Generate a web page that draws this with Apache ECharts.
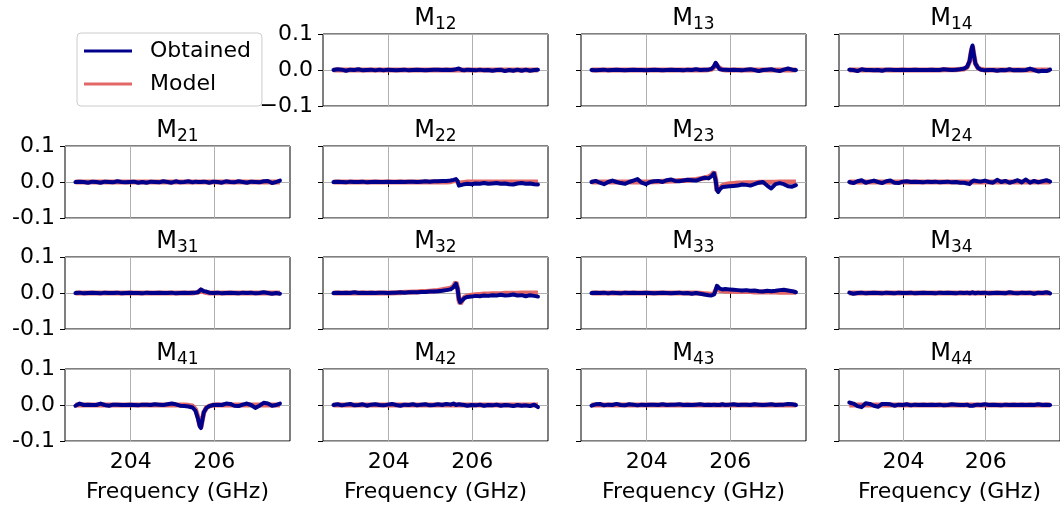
<!DOCTYPE html>
<html><head><meta charset="utf-8">
<script src="https://cdn.jsdelivr.net/npm/echarts@6.0.0/dist/echarts.min.js"></script>
<style>html,body{margin:0;padding:0;background:#fff}#c{width:1060px;height:508px}</style>
</head><body><div id="c"></div>
<script>
// ---------------- data ----------------
const freqGHz = [
  202.68, 202.78, 202.88, 202.98, 203.08, 203.18, 203.28, 203.38, 203.48, 203.58,
  203.68, 203.78, 203.88, 203.98, 204.08, 204.18, 204.28, 204.38, 204.48, 204.58,
  204.68, 204.78, 204.88, 204.98, 205.08, 205.18, 205.28, 205.38, 205.48,
  205.55, 205.61, 205.65, 205.68, 205.71, 205.75, 205.81, 205.88,
  205.98, 206.08, 206.18, 206.28, 206.38, 206.48, 206.58, 206.68, 206.78, 206.88,
  206.98, 207.08, 207.18, 207.28, 207.38, 207.48, 207.57
];
const xTickValues = [204, 206];
const yTickValues = [-0.1, 0.0, 0.1];
const seriesNames = ['Obtained', 'Model'];

const modelFlat = [
  0,0,0,0,0,0,0,0,0,0,
  0,0,0,0,0,0,0,0,0,0,
  0,0,0,0,0,0,0,0,0,
  0,0,0,0,0,0,0,0,
  0,0,0,0,0,0,0,0,0,0,
  0,0,0,0,0,0,0
];

const obtM12 = [
  0.000, 0.002, 0.001, -0.002, 0.001, 0.000, 0.002, -0.001, 0.000, 0.001,
  -0.001, 0.001, -0.001, 0.001, 0.000, -0.001, 0.000, 0.001, -0.001, 0.000,
  0.001, 0.000, -0.001, 0.000, 0.001, 0.001, 0.000, 0.001, 0.000,
  0.001, 0.002, 0.003, 0.004, 0.002, 0.000, -0.001, 0.001,
  0.000, -0.001, 0.001, -0.001, 0.000, -0.002, 0.000, 0.001, -0.003, 0.000,
  -0.002, 0.001, -0.002, 0.001, -0.002, 0.000, 0.001
];
const obtM13 = [
  0.000, -0.001, 0.000, 0.001, -0.001, 0.000, 0.001, 0.000, -0.001, 0.000,
  0.001, 0.000, 0.000, -0.001, 0.000, 0.001, 0.000, -0.001, 0.000, 0.001,
  0.000, 0.000, -0.001, 0.001, 0.000, 0.002, 0.000, 0.001, 0.001,
  0.003, 0.010, 0.020, 0.016, 0.008, 0.002, 0.001, 0.001,
  0.000, 0.001, 0.000, -0.001, 0.001, 0.002, 0.000, -0.003, 0.000, 0.001,
  0.002, -0.001, -0.003, 0.001, 0.004, 0.001, 0.000
];
const modM13 = [
  0,0,0,0,0,0,0,0,0,0,
  0,0,0,0,0,0,0,0,0,0,
  0,0,0,0,0,0,0,0,0.001,
  0.002, 0.008, 0.018, 0.016, 0.008, 0.003, 0.001, 0.000,
  0,0,0,0,0,0,0,0,0,0,
  0,0,0,0,0,0,0
];
const obtM14 = [
  0.001, 0.000, -0.003, 0.002, 0.000, 0.000, -0.001, 0.000, -0.002, 0.001,
  0.001, 0.000, 0.000, 0.001, 0.000, 0.000, 0.001, 0.000, 0.000, 0.000,
  0.001, 0.000, 0.000, 0.002, 0.001, 0.000, 0.001, 0.002, 0.004,
  0.009, 0.026, 0.054, 0.068, 0.044, 0.018, 0.006, 0.001,
  -0.001, 0.000, 0.000, -0.002, 0.000, -0.001, 0.002, -0.001, 0.000, -0.001,
  0.000, 0.004, 0.000, -0.004, -0.002, -0.003, 0.001
];
const modM14 = [
  0,0,0,0,0,0,0,0,0,0,
  0,0,0,0,0,0,0,0,0,0,
  0,0,0,0.001,0.001,0.001,0.001,0.002,0.003,
  0.008, 0.024, 0.052, 0.066, 0.044, 0.018, 0.006, 0.002,
  0,0,0,0,0,0,0,0,0,0,
  0,0,0,0,0,0,0
];
const obtM21 = [
  0.000, 0.001, 0.000, -0.002, 0.001, 0.000, -0.002, 0.001, 0.000, -0.001,
  0.002, 0.000, -0.001, 0.000, 0.001, -0.002, 0.000, -0.002, 0.001, 0.000,
  -0.001, 0.002, 0.000, -0.002, 0.002, -0.001, 0.000, 0.002, -0.001,
  0.001, 0.000, 0.002, 0.000, -0.002, 0.001, 0.000, -0.002,
  0.001, 0.000, -0.002, 0.002, 0.000, -0.001, 0.002, 0.000, -0.002, 0.001,
  0.000, -0.001, 0.002, 0.003, -0.003, 0.000, 0.004
];
const obtM22 = [
  0.000, 0.001, 0.000, -0.001, 0.001, 0.000, 0.000, 0.001, -0.001, 0.000,
  0.001, 0.000, 0.000, 0.001, 0.000, 0.000, 0.001, 0.000, 0.001, 0.001,
  0.000, 0.001, 0.002, 0.001, 0.002, 0.002, 0.003, 0.003, 0.004,
  0.006, 0.008, 0.002, -0.010, -0.011, -0.008, -0.006, -0.005,
  -0.006, -0.004, -0.005, -0.003, -0.005, -0.004, -0.003, -0.005, -0.004, -0.006,
  -0.007, -0.004, -0.003, -0.005, -0.004, -0.006, -0.007
];
const modM22 = [
  0,0,0,0,0,0,0,0,0,0,
  0,0,0,0,0,0,0,0,0,0,
  0,0,0,0,0,0,0,0,0.001,
  0.003, 0.005, 0.002, -0.004, -0.004, -0.002, -0.001, 0,
  0,0,0,0,0,0,0,0,0,0,
  0,0,0,0,0,0,0
];
const obtM23 = [
  0.000, 0.003, -0.002, -0.006, 0.000, 0.004, 0.000, -0.003, -0.005, 0.000,
  0.004, 0.008, -0.002, -0.006, 0.000, 0.002, 0.003, 0.000, 0.005, 0.007,
  0.003, 0.002, 0.004, 0.006, 0.005, 0.004, 0.008, 0.012, 0.010,
  0.016, 0.024, 0.004, -0.022, -0.028, -0.020, -0.014, -0.013,
  -0.012, -0.011, -0.010, -0.007, -0.008, -0.010, -0.006, -0.002, 0.000, -0.010,
  -0.018, -0.006, -0.003, -0.006, -0.012, -0.013, -0.009
];
const modM23 = [
  0,0,0,0,0,0,0,0,0,0,
  0,0,0,0,0, 0.001, 0.001, 0.002, 0.002, 0.003,
  0.003, 0.004, 0.004, 0.005, 0.006, 0.007, 0.009, 0.011, 0.014,
  0.019, 0.028, 0.008, -0.024, -0.026, -0.018, -0.010, -0.007,
  -0.005, -0.004, -0.003, -0.003, -0.002, -0.002, -0.002, -0.001, -0.001, -0.001,
  -0.001, -0.001, 0, 0, 0, 0, 0
];
const obtM24 = [
  0.000, -0.003, 0.002, 0.005, -0.002, 0.001, 0.004, 0.000, -0.003, 0.002,
  0.004, -0.002, -0.003, 0.001, 0.002, 0.000, 0.001, 0.000, -0.001, 0.001,
  0.000, 0.001, -0.001, 0.000, 0.001, -0.001, 0.000, -0.002, -0.002,
  -0.004, -0.006, 0.000, 0.005, 0.004, 0.003, 0.002, 0.001,
  0.004, 0.000, -0.002, 0.006, 0.000, 0.003, -0.002, 0.001, 0.005, -0.001,
  0.007, -0.002, 0.003, -0.001, 0.002, 0.005, 0.001
];
const obtM31 = [
  0.000, 0.001, -0.001, 0.000, 0.001, 0.000, -0.001, 0.001, 0.000, 0.000,
  0.001, -0.001, 0.000, 0.001, 0.000, 0.000, -0.001, 0.001, 0.000, 0.000,
  0.001, 0.000, 0.000, 0.001, -0.001, 0.000, 0.001, 0.000, 0.001,
  0.001, 0.002, 0.006, 0.010, 0.008, 0.005, 0.004, 0.001,
  0.000, 0.001, -0.001, 0.000, 0.001, 0.000, -0.001, 0.001, 0.000, 0.001,
  -0.001, 0.000, 0.002, 0.000, -0.002, 0.000, -0.002
];
const modM31 = [
  0,0,0,0,0,0,0,0,0,0,
  0,0,0,0,0,0,0,0,0,0,
  0,0,0,0,0,0,0,0,0,
  0.001, 0.002, 0.005, 0.008, 0.006, 0.003, 0.001, 0,
  0,0,0,0,0,0,0,0,0,0,
  0,0,0,0,0,0,0
];
const obtM32 = [
  0.000, 0.001, 0.000, 0.001, 0.000, 0.002, 0.000, 0.001, 0.000, 0.001,
  0.000, 0.001, 0.001, 0.000, 0.001, 0.001, 0.002, 0.001, 0.002, 0.002,
  0.002, 0.003, 0.003, 0.004, 0.004, 0.005, 0.006, 0.008, 0.010,
  0.016, 0.026, 0.010, -0.016, -0.026, -0.022, -0.014, -0.011,
  -0.010, -0.008, -0.009, -0.007, -0.008, -0.006, -0.007, -0.005, -0.007, -0.006,
  -0.004, -0.007, -0.006, -0.009, -0.006, -0.008, -0.010
];
const modM32 = [
  0,0,0,0,0,0,0,0,0,0,
  0,0,0,0,0, 0.001, 0.001, 0.002, 0.002, 0.003,
  0.003, 0.004, 0.004, 0.005, 0.006, 0.007, 0.009, 0.011, 0.013,
  0.019, 0.030, 0.012, -0.020, -0.030, -0.022, -0.012, -0.008,
  -0.006, -0.005, -0.004, -0.003, -0.003, -0.002, -0.002, -0.002, -0.001, -0.001,
  -0.001, -0.001, 0, 0, 0, 0, 0
];
const obtM33 = [
  0.000, 0.001, 0.000, 0.001, -0.001, 0.001, 0.000, -0.001, 0.001, 0.000,
  0.001, 0.000, 0.000, 0.001, 0.000, -0.001, 0.000, 0.001, 0.000, -0.001,
  0.000, 0.001, -0.001, 0.000, -0.002, 0.000, -0.002, -0.004, -0.006,
  -0.007, -0.004, 0.008, 0.020, 0.017, 0.012, 0.010, 0.011,
  0.010, 0.009, 0.008, 0.007, 0.008, 0.006, 0.007, 0.005, 0.004, 0.006,
  0.005, 0.006, 0.008, 0.009, 0.007, 0.005, 0.002
];
const modM33 = [
  0,0,0,0,0,0,0,0,0,0,
  0,0,0,0,0,0,0,0,0,0,
  0,0,0,0,0,0, -0.001, -0.002, -0.003,
  -0.004, -0.002, 0.008, 0.015, 0.010, 0.007, 0.006, 0.005,
  0.005, 0.005, 0.004, 0.004, 0.004, 0.004, 0.003, 0.003, 0.003, 0.003,
  0.003, 0.003, 0.002, 0.002, 0.002, 0.002, 0.002
];
const obtM34 = [
  0.001, -0.002, 0.000, 0.001, -0.001, 0.000, 0.001, 0.000, -0.001, 0.001,
  0.000, -0.001, 0.001, 0.000, 0.000, 0.001, -0.001, 0.000, 0.001, 0.000,
  0.000, -0.001, 0.001, 0.000, 0.001, 0.000, -0.001, 0.001, 0.000,
  0.001, -0.001, 0.000, 0.002, 0.000, -0.001, 0.001, 0.000,
  0.001, -0.001, 0.000, 0.001, 0.000, -0.001, 0.002, 0.000, -0.001, 0.001,
  0.000, 0.001, -0.002, 0.001, 0.000, 0.002, -0.001
];
const obtM41 = [
  -0.002, 0.004, 0.000, 0.001, 0.000, 0.000, 0.004, 0.000, -0.002, 0.001,
  0.001, 0.000, 0.000, 0.001, 0.000, -0.001, 0.001, 0.001, 0.000, 0.002,
  0.001, 0.000, 0.002, 0.004, 0.002, -0.002, -0.003, -0.004, -0.007,
  -0.016, -0.038, -0.058, -0.064, -0.044, -0.020, -0.008, -0.003,
  0.000, 0.001, 0.000, 0.004, 0.003, -0.002, -0.003, 0.001, 0.004, 0.000,
  -0.008, -0.002, 0.006, 0.004, -0.002, 0.000, 0.004
];
const modM41 = [
  0,0,0,0,0,0,0,0,0,0,
  0,0,0,0,0,0,0,0,0,0,
  0,0,0,0,0,0,0,-0.001,-0.003,
  -0.012, -0.034, -0.055, -0.062, -0.044, -0.020, -0.008, -0.003,
  0,0,0,0,0,0,0,0,0,0,
  0,0,0,0,0,0,0
];
const obtM42 = [
  0.000, 0.002, -0.001, 0.001, 0.003, -0.001, 0.000, 0.002, -0.002, 0.001,
  0.002, 0.000, -0.001, 0.001, 0.003, 0.000, -0.002, 0.001, 0.000, 0.002,
  -0.001, 0.001, 0.002, -0.001, 0.000, 0.002, 0.000, 0.003, 0.001,
  0.004, 0.000, -0.002, 0.002, -0.001, 0.001, 0.000, -0.002,
  0.000, -0.001, 0.001, -0.002, 0.000, -0.001, 0.001, -0.002, 0.000, -0.001,
  -0.003, 0.000, -0.002, -0.001, -0.003, 0.001, -0.006
];
const obtM43 = [
  -0.002, 0.002, 0.003, -0.001, 0.001, 0.000, 0.003, 0.000, -0.001, 0.002,
  0.001, -0.001, 0.001, 0.000, 0.001, 0.001, 0.000, 0.002, 0.000, 0.001,
  0.001, 0.002, 0.000, 0.001, 0.000, 0.001, 0.002, 0.000, 0.001,
  0.000, 0.001, 0.002, 0.000, 0.001, 0.000, 0.002, 0.000,
  0.001, 0.002, 0.000, 0.001, 0.001, 0.000, 0.002, 0.001, 0.000, 0.001,
  0.002, 0.000, 0.001, 0.001, 0.003, 0.002, 0.000
];
const obtM44 = [
  0.007, 0.004, -0.003, -0.006, 0.005, 0.003, -0.002, -0.005, 0.003, 0.003,
  0.002, -0.002, 0.001, 0.000, 0.002, -0.001, 0.001, 0.000, 0.001, 0.000,
  0.001, 0.000, 0.001, -0.001, 0.000, 0.002, 0.001, 0.000, 0.000,
  0.001, -0.002, -0.004, -0.002, 0.001, 0.000, 0.001, 0.000,
  0.002, 0.000, 0.001, 0.000, -0.001, 0.001, 0.000, 0.001, 0.000, 0.001,
  0.000, 0.001, 0.000, 0.002, 0.000, 0.001, 0.000
];

const panels = [
  { sub: '12', row: 0, col: 1, obt: obtM12, mod: modelFlat },
  { sub: '13', row: 0, col: 2, obt: obtM13, mod: modM13 },
  { sub: '14', row: 0, col: 3, obt: obtM14, mod: modM14 },
  { sub: '21', row: 1, col: 0, obt: obtM21, mod: modelFlat },
  { sub: '22', row: 1, col: 1, obt: obtM22, mod: modM22 },
  { sub: '23', row: 1, col: 2, obt: obtM23, mod: modM23 },
  { sub: '24', row: 1, col: 3, obt: obtM24, mod: modelFlat },
  { sub: '31', row: 2, col: 0, obt: obtM31, mod: modM31 },
  { sub: '32', row: 2, col: 1, obt: obtM32, mod: modM32 },
  { sub: '33', row: 2, col: 2, obt: obtM33, mod: modM33 },
  { sub: '34', row: 2, col: 3, obt: obtM34, mod: modelFlat },
  { sub: '41', row: 3, col: 0, obt: obtM41, mod: modM41 },
  { sub: '42', row: 3, col: 1, obt: obtM42, mod: modelFlat },
  { sub: '43', row: 3, col: 2, obt: obtM43, mod: modelFlat },
  { sub: '44', row: 3, col: 3, obt: obtM44, mod: modelFlat }
];

// ---------------- layout / style ----------------
const FONT = 'DejaVu Sans';
const BLUE = '#00008b';
const RED = '#e26868';
const colLeft = [65, 323, 581, 839];
const rowTop = [34, 146, 257, 369];
const W = 225, H = 72;

const grid = [], xAxis = [], yAxis = [], series = [], graphic = [];
panels.forEach((p, i) => {
  grid.push({ left: colLeft[p.col], top: rowTop[p.row], width: W, height: H,
    show: true, borderColor: '#000', borderWidth: 1, backgroundColor: 'transparent' });
  const isBottom = p.row === 3;
  const showY = p.col === 0 || (p.row === 0 && p.col === 1);
  const minus = p.row === 0 ? '\u2212' : '-';
  xAxis.push({
    type: 'value', gridIndex: i, min: 202.43, max: 207.81,
    axisLine: { show: false },
    axisTick: { show: true, length: 5, customValues: xTickValues, lineStyle: { color: '#000', width: 1 } },
    axisLabel: { show: isBottom, customValues: xTickValues, formatter: v => String(Math.round(v)),
      fontSize: 22, fontFamily: FONT, color: '#000', margin: 10 },
    splitLine: { show: true, lineStyle: { color: '#b0b0b0', width: 1 } },
    name: isBottom ? 'Frequency (GHz)' : '', nameLocation: 'middle', nameGap: 40,
    nameTextStyle: { fontSize: 22, fontFamily: FONT, color: '#000' }
  });
  yAxis.push({
    type: 'value', gridIndex: i, min: yTickValues[0], max: yTickValues[2], interval: 0.1,
    axisLine: { show: false },
    axisTick: { show: true, length: 5, lineStyle: { color: '#000', width: 1 } },
    axisLabel: { show: showY, fontSize: 22, fontFamily: FONT, color: '#000', margin: 10,
      formatter: v => Math.abs(v) < 1e-9 ? '0.0' : (v < 0 ? minus + Math.abs(v).toFixed(1) : v.toFixed(1)) },
    splitLine: { show: true, lineStyle: { color: '#b0b0b0', width: 1 } }
  });
  series.push({
    name: seriesNames[1], type: 'line', xAxisIndex: i, yAxisIndex: i,
    data: freqGHz.map((f, k) => [f, p.mod[k]]),
    showSymbol: false, symbol: 'none', lineStyle: { color: RED, width: 5 }, itemStyle: { color: RED },
    z: 2, silent: true
  });
  series.push({
    name: seriesNames[0], type: 'line', xAxisIndex: i, yAxisIndex: i,
    data: freqGHz.map((f, k) => [f, p.obt[k]]),
    showSymbol: false, symbol: 'none', lineStyle: { color: BLUE, width: 4, join: 'round', cap: 'round' }, itemStyle: { color: BLUE },
    z: 3, silent: true
  });
  graphic.push({
    type: 'text', x: colLeft[p.col] + W / 2, y: rowTop[p.row] - 3, silent: true,
    style: {
      text: '{m|M}{s|' + p.sub + '}', align: 'center', verticalAlign: 'bottom', fill: '#000',
      rich: {
        m: { fontSize: 24, fontFamily: FONT, lineHeight: 24, verticalAlign: 'top', fill: '#000' },
        s: { fontSize: 17, fontFamily: FONT, lineHeight: 17, verticalAlign: 'top', padding: [9, 0, 0, 0], fill: '#000' }
      }
    }
  });
});

const chart = echarts.init(document.getElementById('c'), null, { renderer: 'canvas' });
chart.setOption({
  animation: false,
  backgroundColor: '#fff',
  legend: {
    data: [seriesNames[0], seriesNames[1]], orient: 'vertical', left: 77, top: 33,
    padding: [7, 11, 11, 7], itemGap: 11, itemWidth: 48, itemHeight: 3, icon: 'rect',
    borderColor: '#cccccc', borderWidth: 1, borderRadius: 4, backgroundColor: '#fff',
    textStyle: { fontSize: 22, fontFamily: FONT, color: '#000', padding: [0, 0, 0, 13] },
    selectedMode: false
  },
  grid, xAxis, yAxis, series, graphic
});
</script>
</body></html>
